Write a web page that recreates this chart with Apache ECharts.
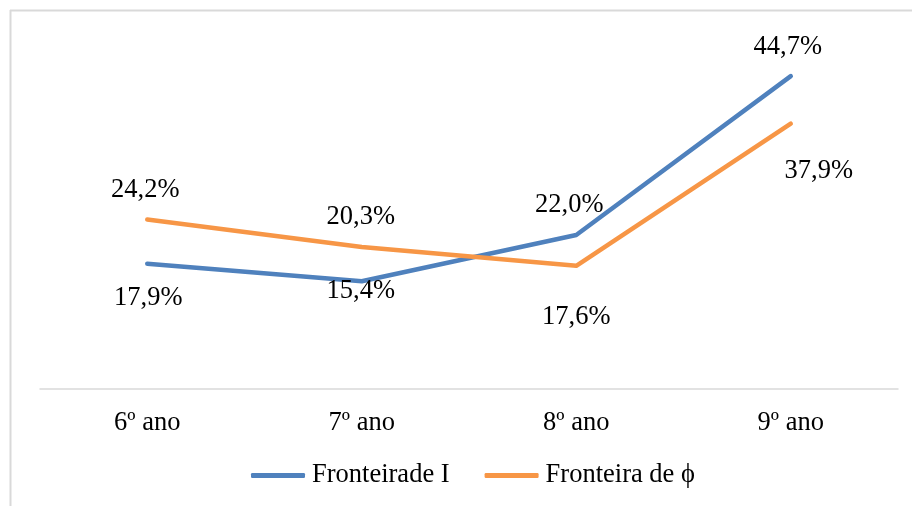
<!DOCTYPE html>
<html>
<head>
<meta charset="utf-8">
<script src="https://cdn.jsdelivr.net/npm/echarts@6/dist/echarts.min.js"></script>
<style>
  html, body { margin: 0; padding: 0; background: #fff; }
  #chart { width: 912px; height: 506px; }
</style>
</head>
<body>
<div id="chart"></div>
<script>
const categories = ['6º ano', '7º ano', '8º ano', '9º ano']
const fronteiraI = [17.9, 15.4, 22.0, 44.7]
const fronteiraPhi = [24.2, 20.3, 17.6, 37.9]
const seriesNames = ['Fronteirade I', 'Fronteira de ϕ']

// label offsets (px) from each point
const offsetsI = [[1, 34], [-1, 10], [-7, -30], [-3, -29]]
const offsetsPhi = [[-2, -30], [-1, -30], [0, 51], [28, 47]]

const font = 'Liberation Serif'
const fontSize = 26.5

function withLabels (values, offsets) {
  return values.map((v, i) => ({
    value: v,
    label: { offset: offsets[i] }
  }))
}

const myChart = echarts.init(document.getElementById('chart'))
const option = {
  backgroundColor: '#fff',
  animation: false,
  grid: { left: 40, right: 14, top: 39, bottom: 117 },
  xAxis: {
    type: 'category',
    data: categories,
    boundaryGap: true,
    axisLine: { lineStyle: { color: '#d9d9d9', width: 1.5 } },
    axisTick: { show: false },
    axisLabel: { color: '#000', fontFamily: font, fontSize: fontSize, margin: 21 }
  },
  yAxis: {
    type: 'value',
    min: 0,
    max: 50,
    show: false,
    splitLine: { show: false }
  },
  legend: {
    bottom: 12,
    left: 246,
    itemWidth: 54,
    itemHeight: 5,
    itemGap: 35,
    icon: 'roundRect',
    textStyle: { color: '#000', fontFamily: font, fontSize: fontSize, padding: [0, 0, 0, 2] },
    data: seriesNames
  },
  graphic: [
    { type: 'line', shape: { x1: 10, y1: 10.5, x2: 912, y2: 10.5 }, style: { stroke: '#d9d9d9', lineWidth: 2 } },
    { type: 'line', shape: { x1: 10.5, y1: 10, x2: 10.5, y2: 506 }, style: { stroke: '#d9d9d9', lineWidth: 2 } }
  ],
  series: [
    {
      name: seriesNames[0],
      type: 'line',
      data: withLabels(fronteiraI, offsetsI),
      symbol: 'circle',
      symbolSize: 0,
      showSymbol: true,
      color: '#4f81bd',
      lineStyle: { width: 4.5, color: '#4f81bd', cap: 'round', join: 'round' },
      label: {
        show: true,
        position: 'inside',
        color: '#000',
        fontFamily: font,
        fontSize: fontSize,
        formatter: p => p.value.toFixed(1).replace('.', ',') + '%'
      }
    },
    {
      name: seriesNames[1],
      type: 'line',
      data: withLabels(fronteiraPhi, offsetsPhi),
      symbol: 'circle',
      symbolSize: 0,
      showSymbol: true,
      color: '#f79646',
      lineStyle: { width: 4.5, color: '#f79646', cap: 'round', join: 'round' },
      label: {
        show: true,
        position: 'inside',
        color: '#000',
        fontFamily: font,
        fontSize: fontSize,
        formatter: p => p.value.toFixed(1).replace('.', ',') + '%'
      }
    }
  ]
}

option && myChart.setOption(option)
</script>
</body>
</html>
